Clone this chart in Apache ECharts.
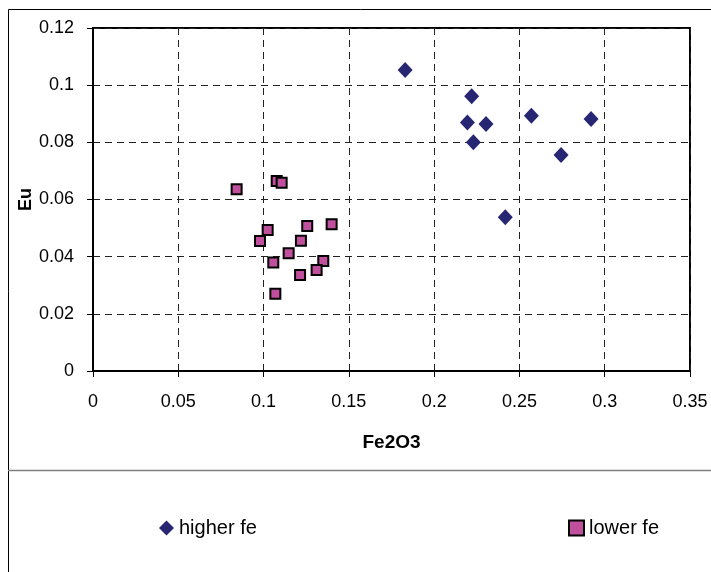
<!DOCTYPE html>
<html>
<head>
<meta charset="utf-8">
<script src="https://cdn.jsdelivr.net/npm/echarts@6/dist/echarts.min.js"></script>
<style>
  html, body { margin: 0; padding: 0; background: #fff; }
  #chart { width: 711px; height: 572px; }
</style>
</head>
<body>
<div id="chart"></div>
<script>
// Fe2O3 vs Eu
const higherFe = [
    [0.183, 0.1053], [0.222, 0.0961], [0.2195, 0.0869], [0.2304, 0.0864],
    [0.223, 0.0800], [0.257, 0.0893], [0.292, 0.0882], [0.2744, 0.0756],
    [0.2417, 0.0538]
];
const lowerFe = [
    [0.0842, 0.0636], [0.1077, 0.0665], [0.1106, 0.0659], [0.1024, 0.0493],
    [0.0979, 0.0455], [0.1256, 0.0507], [0.1399, 0.0513], [0.1219, 0.0456],
    [0.1147, 0.0412], [0.1057, 0.0380], [0.1350, 0.0385], [0.1311, 0.0353],
    [0.1214, 0.0336], [0.1069, 0.0270]
];
const xTicks = { min: 0, max: 0.35, interval: 0.05 };
const yTicks = { min: 0, max: 0.12, interval: 0.02 };

const font = 'Liberation Sans, Arial, sans-serif';
const dashed = { show: true, lineStyle: { color: '#222', type: [7, 5], width: 1 } };

const chart = echarts.init(document.getElementById('chart'));
chart.setOption({
    backgroundColor: '#fff',
    animation: false,
    textStyle: { fontFamily: font },
    graphic: [
        { type: 'rect', shape: { x: 8.5, y: 9.5, width: 800, height: 700 },
          style: { fill: 'none', stroke: '#000', lineWidth: 1 }, silent: true },
        { type: 'line', shape: { x1: 8, y1: 470.5, x2: 711, y2: 470.5 },
          style: { stroke: '#808080', lineWidth: 1.5 }, silent: true }
    ],
    grid: { left: 93, top: 28, right: 21, bottom: 201, show: true, borderColor: '#000', borderWidth: 2 },
    legend: [
        { left: 154, top: 513, data: ['higher fe'], itemWidth: 15, itemHeight: 15, itemGap: 4,
          textStyle: { fontSize: 20, color: '#000', fontFamily: font } },
        { left: 563, top: 513, data: ['lower fe'], itemWidth: 15, itemHeight: 15, itemGap: 4,
          textStyle: { fontSize: 20, color: '#000', fontFamily: font } }
    ],
    xAxis: {
        type: 'value', min: xTicks.min, max: xTicks.max, interval: xTicks.interval,
        name: 'Fe2O3', nameLocation: 'middle', nameGap: 62, nameMoveOverlap: false,
        nameTextStyle: { fontSize: 19, fontWeight: 'bold', color: '#000', fontFamily: font },
        axisLine: { show: true, lineStyle: { color: '#000', width: 2 } },
        axisTick: { show: true, length: 6, lineStyle: { color: '#000', width: 1 } },
        axisLabel: { fontSize: 18, color: '#000', margin: 22, fontFamily: font },
        splitLine: dashed
    },
    yAxis: {
        type: 'value', min: yTicks.min, max: yTicks.max, interval: yTicks.interval,
        name: 'Eu', nameLocation: 'middle', nameGap: 58, nameMoveOverlap: false,
        nameTextStyle: { fontSize: 18, fontWeight: 'bold', color: '#000', fontFamily: font },
        axisLine: { show: true, lineStyle: { color: '#000', width: 2 } },
        axisTick: { show: true, length: 6, lineStyle: { color: '#000', width: 1 } },
        axisLabel: { fontSize: 18, color: '#000', margin: 19, fontFamily: font },
        splitLine: dashed
    },
    series: [
        {
            name: 'higher fe', type: 'scatter', data: higherFe,
            symbol: 'diamond', symbolSize: [15, 16],
            itemStyle: { color: '#262673', opacity: 1 }
        },
        {
            name: 'lower fe', type: 'scatter', data: lowerFe,
            symbol: 'rect', symbolSize: 10,
            itemStyle: { color: '#c0509e', borderColor: '#000', borderWidth: 2, opacity: 1 }
        }
    ]
});
</script>
</body>
</html>
